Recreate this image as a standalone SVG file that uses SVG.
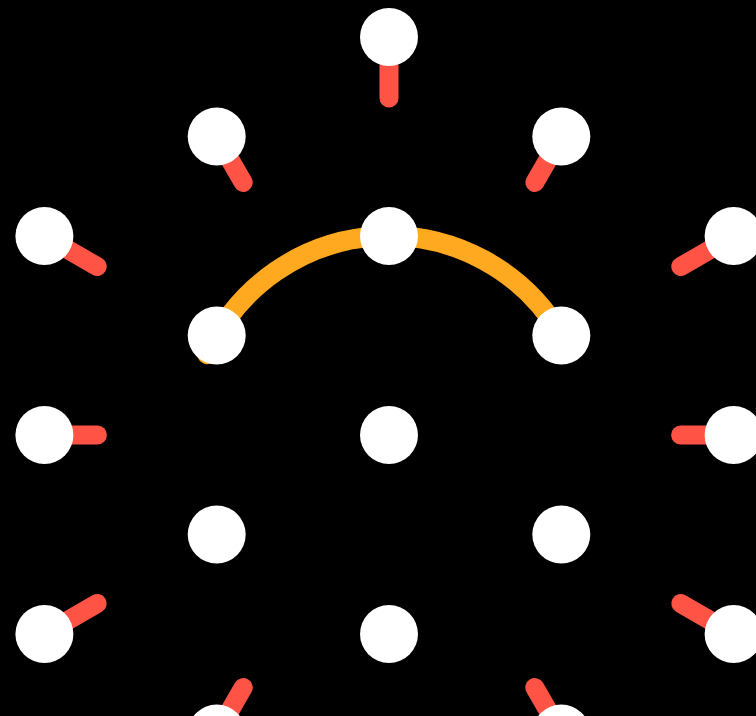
<svg xmlns="http://www.w3.org/2000/svg" width="756" height="716" viewBox="0 0 756 716">
  <style>
    .stub { stroke: #FF5445; stroke-width: 19; stroke-linecap: round; fill: none; }
    .arc { stroke: #FFA920; stroke-width: 20; stroke-linecap: round; fill: none; }
    .dot { fill: #FFFFFF; }
  </style>
  <rect x="0" y="0" width="756" height="716" fill="#000000"/>
  <g id="connectors">
    <line class="stub" x1="389" y1="37" x2="389" y2="98"/>
    <line class="stub" x1="44.4" y1="236" x2="97.2" y2="266.5"/>
    <line class="stub" x1="733.6" y1="236" x2="680.8" y2="266.5"/>
    <line class="stub" x1="44.4" y1="634" x2="97.2" y2="603.5"/>
    <line class="stub" x1="733.6" y1="634" x2="680.8" y2="603.5"/>
    <line class="stub" x1="44.4" y1="435" x2="97.4" y2="435"/>
    <line class="stub" x1="733.6" y1="435" x2="680.6" y2="435"/>
    <line class="stub" x1="216.7" y1="136.5" x2="243.2" y2="182.4"/>
    <line class="stub" x1="561.3" y1="136.5" x2="534.8" y2="182.4"/>
    <line class="stub" x1="216.7" y1="733.5" x2="243.2" y2="687.6"/>
    <line class="stub" x1="561.3" y1="733.5" x2="534.8" y2="687.6"/>
    <path class="arc" d="M 207.2 354.1 A 199 199 0 0 1 561.3 335.5"/>
  </g>
  <g id="n-center"><circle class="dot" cx="389" cy="435" r="29"/></g>
  <g id="n-r1-top"><circle class="dot" cx="389" cy="236" r="29"/></g>
  <g id="n-r1-ur"><circle class="dot" cx="561.3" cy="335.5" r="29"/></g>
  <g id="n-r1-lr"><circle class="dot" cx="561.3" cy="534.5" r="29"/></g>
  <g id="n-r1-bottom"><circle class="dot" cx="389" cy="634" r="29"/></g>
  <g id="n-r1-ll"><circle class="dot" cx="216.7" cy="534.5" r="29"/></g>
  <g id="n-r1-ul"><circle class="dot" cx="216.7" cy="335.5" r="29"/></g>
  <g id="n-top"><circle class="dot" cx="389" cy="37" r="29"/></g>
  <g id="n-ul"><circle class="dot" cx="216.7" cy="136.5" r="29"/></g>
  <g id="n-ur"><circle class="dot" cx="561.3" cy="136.5" r="29"/></g>
  <g id="n-l-upper"><circle class="dot" cx="44.4" cy="236" r="29"/></g>
  <g id="n-r-upper"><circle class="dot" cx="733.6" cy="236" r="29"/></g>
  <g id="n-l-mid"><circle class="dot" cx="44.4" cy="435" r="29"/></g>
  <g id="n-r-mid"><circle class="dot" cx="733.6" cy="435" r="29"/></g>
  <g id="n-l-lower"><circle class="dot" cx="44.4" cy="634" r="29"/></g>
  <g id="n-r-lower"><circle class="dot" cx="733.6" cy="634" r="29"/></g>
  <g id="n-ll"><circle class="dot" cx="216.7" cy="733.5" r="29"/></g>
  <g id="n-lr"><circle class="dot" cx="561.3" cy="733.5" r="29"/></g>
  <g id="n-bottom"><circle class="dot" cx="389" cy="833" r="29"/></g>
</svg>
